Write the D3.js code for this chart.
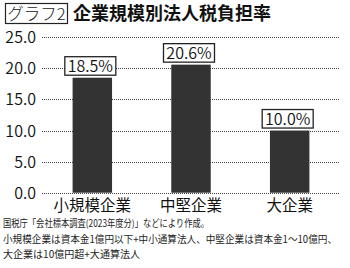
<!DOCTYPE html>
<html lang="ja">
<head>
<meta charset="UTF-8">
<script src="https://d3js.org/d3.v7.min.js"></script>
<style>
  body { margin: 0; background: #fff; }
  svg { display: block; font-family: "Noto Sans CJK JP", sans-serif; }
  .grid line { stroke: #444; stroke-dasharray: 1,1; }
</style>
</head>
<body>
<div id="chart"></div>
<script>
const categories = ["小規模企業", "中堅企業", "大企業"];
const rates = [18.5, 20.6, 10.0];
const yTicks = [0, 5, 10, 15, 20, 25];
const notes = [
  "国税庁「会社標本調査(2023年度分)」などにより作成。",
  "小規模企業は資本金1億円以下+中小通算法人、中堅企業は資本金1～10億円、",
  "大企業は10億円超+大通算法人"
];
const noteWidths = [206, 334, 137];

const width = 350, height = 268;
const svg = d3.select("#chart").append("svg")
  .attr("width", width).attr("height", height);

const x = d3.scaleBand().domain(categories).range([42, 340])
  .paddingInner(0.6).paddingOuter(0.31);
const y = d3.scaleLinear().domain([0, 25]).range([192.7, 37.3]);

// title
svg.append("rect").attr("x", 5.5).attr("y", 3.5).attr("width", 62).attr("height", 20)
  .attr("fill", "none").attr("stroke", "#222").attr("stroke-width", 1.2);
svg.append("text").attr("x", 36.5).attr("y", 19.5).attr("text-anchor", "middle")
  .attr("font-size", 16.5).attr("font-weight", 300).attr("fill", "#222").text("グラフ2");
svg.append("text").attr("x", 73).attr("y", 20).attr("font-size", 18)
  .attr("font-weight", 700).attr("fill", "#111").text("企業規模別法人税負担率");

// grid + y labels
const grid = svg.append("g").attr("class", "grid");
grid.selectAll("line").data(yTicks).join("line")
  .attr("x1", 42).attr("x2", 340)
  .attr("y1", d => Math.round(y(d)) + 0.5).attr("y2", d => Math.round(y(d)) + 0.5);
svg.append("g").selectAll("text").data(yTicks).join("text")
  .attr("x", 36).attr("y", d => y(d) + 6).attr("text-anchor", "end")
  .attr("font-size", 16).attr("font-weight", 350).attr("fill", "#111").text(d => d.toFixed(1));

// bars
svg.append("g").selectAll("rect").data(rates).join("rect")
  .attr("x", (d, i) => x(categories[i])).attr("width", x.bandwidth())
  .attr("y", d => y(d)).attr("height", d => y(0) - y(d))
  .attr("fill", "#333");

// value boxes
const lab = svg.append("g").selectAll("g").data(rates).join("g")
  .attr("transform", (d, i) => `translate(${x(categories[i]) + x.bandwidth() / 2 - 2},${y(d) - 2})`);
lab.append("rect").attr("x", -25.5).attr("y", -19).attr("width", 51).attr("height", 18.5)
  .attr("fill", "#fff").attr("stroke", "#222").attr("stroke-width", 1.3);
lab.append("text").attr("y", -4).attr("text-anchor", "middle").attr("font-size", 16)
  .attr("font-weight", 350).attr("fill", "#111").text(d => d.toFixed(1) + "%");

// category labels
svg.append("g").selectAll("text").data(categories).join("text")
  .attr("x", d => x(d) + x.bandwidth() / 2).attr("y", 211).attr("text-anchor", "middle")
  .attr("font-size", 15.5).attr("font-weight", 400).attr("fill", "#111").text(d => d);

// notes
svg.append("g").selectAll("text").data(notes).join("text")
  .attr("x", 3).attr("y", (d, i) => 227 + i * 15.5)
  .attr("font-size", 10).attr("fill", "#222")
  .attr("textLength", (d, i) => noteWidths[i]).attr("lengthAdjust", "spacingAndGlyphs")
  .text(d => d);
</script>
</body>
</html>
